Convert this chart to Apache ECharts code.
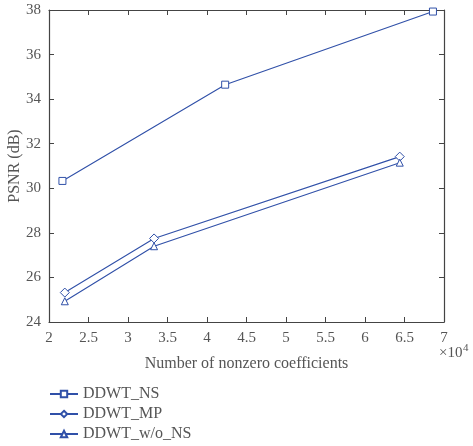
<!DOCTYPE html>
<html>
<head>
<meta charset="utf-8">
<script src="https://cdn.jsdelivr.net/npm/echarts@6/dist/echarts.min.js"></script>
<style>
  html, body { margin: 0; padding: 0; background: #fff; }
  #chart { width: 473px; height: 446px; }
</style>
</head>
<body>
<div id="chart"></div>
<script>
// values (x in units of 10^4 coefficients)
const seriesNames = ['DDWT_NS', 'DDWT_MP', 'DDWT_w/o_NS'];
const nsData = [[2.17, 30.33], [4.23, 34.65], [6.86, 37.93]];
const mpData = [[2.2, 25.32], [3.33, 27.75], [6.44, 31.42]];
const woData = [[2.2, 24.93], [3.33, 27.4], [6.44, 31.15]];
const symbols = ['rect', 'diamond', 'triangle'];

const blue = '#3050a8';
const textColor = '#555';
const font = 'Liberation Serif';

var chart = echarts.init(document.getElementById('chart'));

function mkSeries(name, data, symbol) {
    return {
        name: name,
        type: 'line',
        data: data,
        symbol: symbol,
        symbolSize: symbol == 'diamond' ? 9 : 7,
        lineStyle: { color: blue, width: 1.1 },
        itemStyle: { color: '#fff', borderColor: blue, borderWidth: 1 },
        animation: false
    };
}

let axisLine = { show: true, lineStyle: { color: '#444', width: 1.2 } };
let tick = { show: true, inside: true, length: 5, lineStyle: { color: '#444' } };

var option = {
    backgroundColor: '#fff',
    textStyle: { fontFamily: font },
    grid: { left: 49, right: 29, top: 10, bottom: 124, outerBoundsMode: 'none', containLabel: false },
    xAxis: [{
        type: 'value', min: 2, max: 7, interval: 0.5,
        axisLine: axisLine, axisTick: tick, splitLine: { show: false },
        axisLabel: { color: textColor, fontSize: 15, fontFamily: font, margin: 9 },
        name: 'Number of nonzero coefficients',
        nameLocation: 'middle', nameGap: 34, nameMoveOverlap: false,
        nameTextStyle: { color: textColor, fontSize: 16, fontFamily: font }
    }, {
        type: 'value', min: 2, max: 7, interval: 0.5, position: 'top',
        axisLine: axisLine, axisTick: tick, splitLine: { show: false },
        axisLabel: { show: false }
    }],
    yAxis: [{
        type: 'value', min: 24, max: 38, interval: 2,
        axisLine: axisLine, axisTick: tick, splitLine: { show: false },
        axisLabel: { color: textColor, fontSize: 15, fontFamily: font, margin: 8 },
        name: 'PSNR (dB)', nameLocation: 'middle', nameGap: 26, nameMoveOverlap: false,
        nameTextStyle: { color: textColor, fontSize: 16, fontFamily: font }
    }, {
        type: 'value', min: 24, max: 38, interval: 2, position: 'right',
        axisLine: axisLine, axisTick: tick, splitLine: { show: false },
        axisLabel: { show: false }
    }],
    legend: {
        orient: 'vertical', left: 49, top: 386, padding: 0,
        itemWidth: 28, itemHeight: 8, itemGap: 4,
        data: seriesNames,
        textStyle: { color: textColor, fontSize: 16, lineHeight: 16, fontFamily: font }
    },
    graphic: [{
        type: 'text', left: 439, top: 346,
        style: { text: '×10', fill: textColor, font: '15px "Liberation Serif"' }
    }, {
        type: 'text', left: 463, top: 343,
        style: { text: '4', fill: textColor, font: '11px "Liberation Serif"' }
    }],
    series: [
        mkSeries(seriesNames[0], nsData, symbols[0]),
        mkSeries(seriesNames[1], mpData, symbols[1]),
        mkSeries(seriesNames[2], woData, symbols[2])
    ]
};
chart.setOption(option);
</script>
</body>
</html>
